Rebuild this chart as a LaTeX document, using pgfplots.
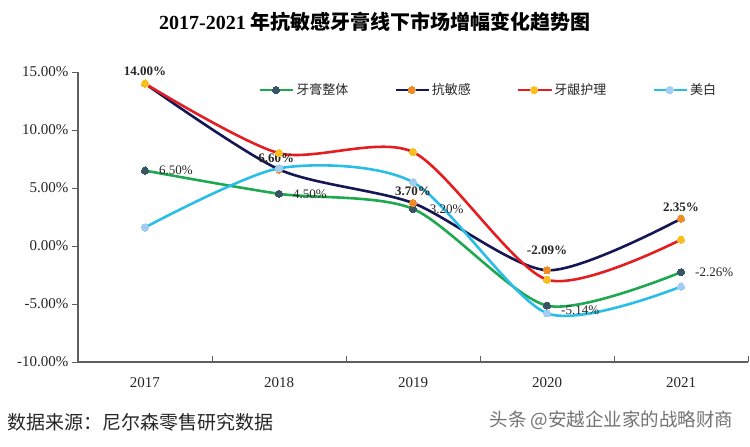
\documentclass[border=0pt]{standalone}
\usepackage{pgfplots}
\pgfplotsset{compat=1.18}
\usepackage{fontspec}
\setmainfont{Liberation Serif}
\newfontfamily\cjk{Noto Sans CJK SC}
\definecolor{cgreen}{RGB}{30,168,80}
\definecolor{cgreenm}{RGB}{55,85,100}
\definecolor{cnavy}{RGB}{20,22,85}
\definecolor{corange}{RGB}{240,140,40}
\definecolor{cred}{RGB}{228,30,32}
\definecolor{cyellow}{RGB}{250,190,30}
\definecolor{cblue}{RGB}{40,190,232}
\definecolor{cbluem}{RGB}{160,205,240}
\definecolor{caxis}{RGB}{95,95,95}
\begin{document}
\begin{tikzpicture}
\path[use as bounding box] (0,0) rectangle (750bp,447bp);
\node[font=\fontsize{20bp}{22bp}\selectfont\bfseries] at (375bp,425bp) {2017-2021 {\cjk 年抗敏感牙膏线下市场增幅变化趋势图}};
\node[anchor=west,font=\fontsize{19bp}{21bp}\selectfont\cjk,text=black!85] at (4bp,25bp) {数据来源：尼尔森零售研究数据};
\node[anchor=east,font=\fontsize{18.5bp}{20bp}\selectfont\cjk,text=black!55] at (737bp,27bp) {头条 @安越企业家的战略财商};
\begin{axis}[
  at={(78bp,85bp)}, anchor=south west,
  scale only axis, width=670bp, height=290bp,
  xmin=-0.5, xmax=4.5, ymin=-10, ymax=15,
  axis x line*=bottom, axis y line*=left,
  axis line style={caxis, line width=1.1pt},
  clip=false,
  xtick={0,1,2,3,4},
  xticklabels={2017,2018,2019,2020,2021},
  major x tick style={draw=none},
  minor xtick={0.5,1.5,2.5,3.5,4.5},
  minor x tick style={caxis, line width=1pt, yshift=6bp},
  minor tick length=6bp,
  tick align=outside,
  major tick length=6bp,
  ytick={-10,-5,0,5,10,15},
  yticklabels={-10.00\%,-5.00\%,0.00\%,5.00\%,10.00\%,15.00\%},
  y tick style={caxis, line width=1pt},
  /pgf/number format/assume math mode=true,
  ticklabel style={font=\fontsize{15bp}{17bp}\selectfont, text=black!85},
  xticklabel style={yshift=-6bp},
  legend columns=4,
  legend style={draw=none, fill=none, at={(0.265,0.938)}, anchor=west,
    font=\fontsize{13bp}{15bp}\selectfont\cjk,
    /tikz/every even column/.append style={column sep=44bp},
    text=black!85},
  legend image code/.code={
    \draw[mark repeat=2,mark phase=2] plot coordinates {(0bp,0bp) (16bp,0bp) (33bp,0bp)};
  },
  every axis plot/.append style={line width=2.6pt, smooth, tension=0.45},
  mark size=3.6bp,
]
\addplot[cgreen, mark=*, mark options={fill=cgreenm, draw=cgreenm, line width=0pt}] coordinates {(0,6.50) (1,4.50) (2,3.20) (3,-5.14) (4,-2.26)};
\addlegendentry{牙膏整体}
\addplot[cnavy, mark=*, mark options={fill=corange, draw=corange, line width=0pt}] coordinates {(0,14.00) (1,6.60) (2,3.70) (3,-2.09) (4,2.35)};
\addlegendentry{抗敏感}
\addplot[cred, mark=*, mark options={fill=cyellow, draw=cyellow, line width=0pt}] coordinates {(0,14.00) (1,8.00) (2,8.10) (3,-2.90) (4,0.55)};
\addlegendentry{牙龈护理}
\addplot[cblue, mark=*, mark options={fill=cbluem, draw=cbluem, line width=0pt}] coordinates {(0,1.60) (1,6.70) (2,5.50) (3,-5.80) (4,-3.50)};
\addlegendentry{美白}
% data labels
\begin{scope}[font=\fontsize{13bp}{15bp}\selectfont, text=black!85]
\node[font=\fontsize{13bp}{15bp}\selectfont\bfseries] at (axis cs:0,15.1) {14.00\%};
\node[anchor=west] at (axis cs:0.08,6.50) {6.50\%};
\node[font=\fontsize{13bp}{15bp}\selectfont\bfseries] at (axis cs:0.98,7.6) {6.60\%};
\node[anchor=west] at (axis cs:1.08,4.45) {4.50\%};
\node[font=\fontsize{13bp}{15bp}\selectfont\bfseries] at (axis cs:2,4.75) {3.70\%};
\node[anchor=west] at (axis cs:2.1,3.2) {3.20\%};
\node[font=\fontsize{13bp}{15bp}\selectfont\bfseries] at (axis cs:3,-0.35) {-2.09\%};
\node[anchor=west] at (axis cs:3.08,-5.55) {-5.14\%};
\node[font=\fontsize{13bp}{15bp}\selectfont\bfseries] at (axis cs:4,3.35) {2.35\%};
\node[anchor=west] at (axis cs:4.08,-2.26) {-2.26\%};
\end{scope}
\end{axis}
\end{tikzpicture}
\end{document}
